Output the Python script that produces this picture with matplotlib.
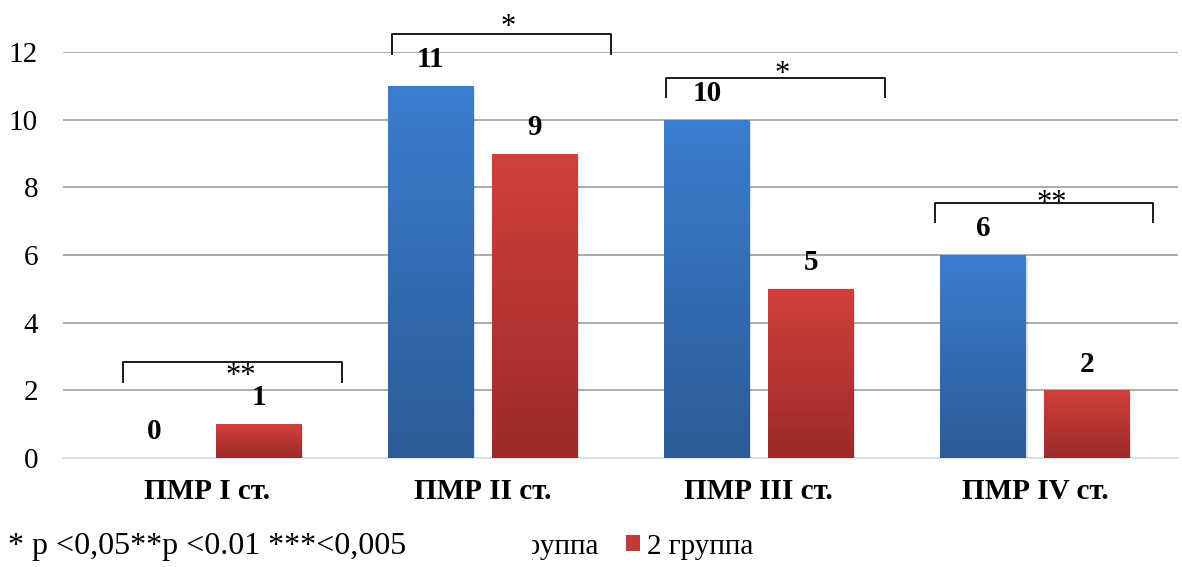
import numpy as np
import matplotlib.pyplot as plt
from matplotlib.colors import LinearSegmentedColormap
from matplotlib.patches import Patch, Rectangle

plt.rcParams['font.family'] = ['Liberation Serif', 'DejaVu Serif']

# Data
categories = ['ПМР I ст.', 'ПМР II ст.', 'ПМР III ст.', 'ПМР IV ст.']
group1 = [0, 11, 10, 6]
group2 = [1, 9, 5, 2]
series_names = ['1 группа', '2 группа']
yticks = [0, 2, 4, 6, 8, 10, 12]
# significance brackets: (left, right, top, drop, stars, star_x, star_y)
brackets = [
    (-0.304, 0.492, 2.84, 0.58, '**', 0.123, 2.42),
    (0.673, 1.465, 12.53, 0.57, '*', 1.092, 12.72),
    (1.664, 2.456, 11.23, 0.57, '*', 2.083, 11.35),
    (2.637, 3.429, 7.54, 0.57, '**', 3.060, 7.52),
]
note = '* p <0,05**p <0.01 ***<0,005'

blue_cm = LinearSegmentedColormap.from_list('b', ['#2c5b96', '#3b7dcf'])
red_cm = LinearSegmentedColormap.from_list('r', ['#9c2a29', '#d1403c'])

fig = plt.figure(figsize=(11.82, 5.67), dpi=100)
ax = fig.add_axes([0.0533, 0.192, 0.943, 0.716])

x = np.arange(len(categories))
w = 0.311
off = 0.188

grad = np.linspace(0, 1, 256).reshape(-1, 1)

def gbar(xc, h, cmap):
    if h <= 0:
        return
    # soft shadow
    ax.bar(xc + 0.006, h, w, bottom=-0.06, color='#000000', alpha=0.12, zorder=2, linewidth=0)
    b = ax.bar(xc, h, w, color='none', zorder=3, linewidth=0)[0]
    im = ax.imshow(grad, cmap=cmap, aspect='auto', origin='lower',
                   extent=[xc - w / 2, xc + w / 2, 0, h], zorder=3)
    im.set_clip_path(b)

for i in range(len(categories)):
    gbar(x[i] - off, group1[i], blue_cm)
    gbar(x[i] + off, group2[i], red_cm)
    ax.annotate(str(group1[i]), (x[i] - off, group1[i]), xytext=(0, 19),
                textcoords='offset points', ha='center', va='center',
                fontsize=21, fontweight='bold')
    ax.annotate(str(group2[i]), (x[i] + off, group2[i]), xytext=(0, 19),
                textcoords='offset points', ha='center', va='center',
                fontsize=21, fontweight='bold')

for l, r, top, drop, st, sx, sy in brackets:
    ax.plot([l, l, r, r], [top - drop, top, top, top - drop],
            color='#1a1a1a', lw=1.4, clip_on=False, zorder=4, solid_joinstyle='round')
    ax.text(sx, sy, st, ha='center', va='center', fontsize=22, zorder=5)

ax.set_xlim(-0.52, 3.517)
ax.set_ylim(0, 12)
ax.set_yticks(yticks)
ax.set_xticks(x)
ax.set_xticklabels(categories, fontsize=21, fontweight='bold')
ax.tick_params(axis='x', length=0, pad=14)
ax.tick_params(axis='y', length=0, labelsize=21, pad=18)
ax.yaxis.grid(True, color='#a6a6a6', lw=1.3)
ax.set_axisbelow(True)
for s in ('top', 'right', 'left'):
    ax.spines[s].set_visible(False)
ax.spines['bottom'].set_color('#d6e2f2')
ax.spines['bottom'].set_linewidth(1.3)
ax.spines['bottom'].set_zorder(1)

handles = [Patch(facecolor='#3270b8'), Patch(facecolor='#c03a37')]
fig.legend(handles, series_names, loc='center right', bbox_to_anchor=(0.637, 0.036),
           ncol=2, frameon=False, fontsize=21, handlelength=0.47, handleheight=0.47,
           handletextpad=0.22, columnspacing=0.95, borderpad=0, borderaxespad=0)
# note box sits on top of the legend's first entry
fig.add_artist(Rectangle((0, 0), 0.45, 0.085, transform=fig.transFigure,
                         facecolor='white', edgecolor='none', zorder=9))
fig.text(0.007, 0.037, note, ha='left', va='center', fontsize=23, zorder=10)

fig.savefig('out.png', dpi=100)
